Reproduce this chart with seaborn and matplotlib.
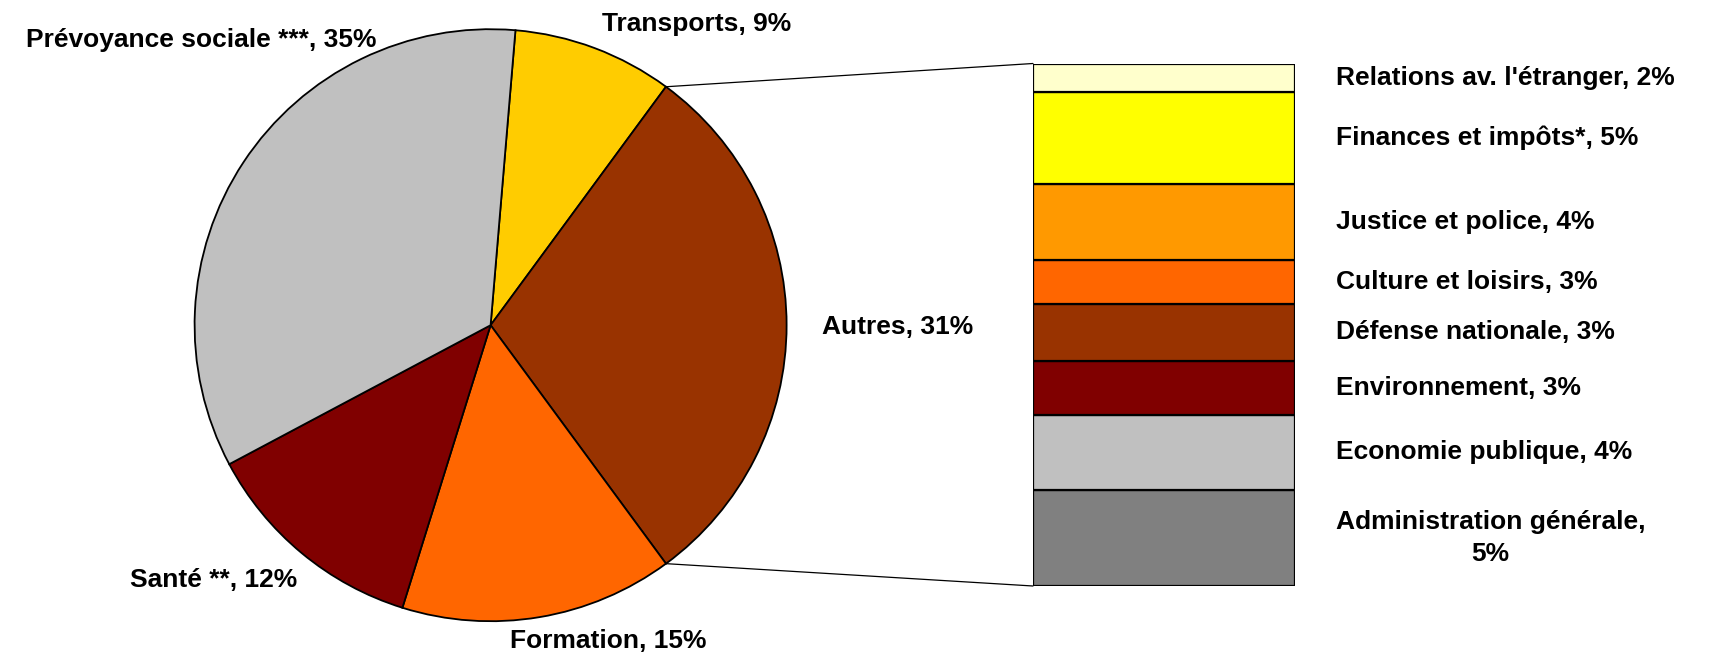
import numpy as np
import matplotlib
matplotlib.use("Agg")
import matplotlib.pyplot as plt
from matplotlib.patches import ConnectionPatch
import seaborn as sns

# ---data---
pie_labels = ['Transports, 9%', 'Autres, 31%', 'Formation, 15%', 'Santé **, 12%', 'Prévoyance sociale ***, 35%']
pie_values = [8.75, 29.8, 14.9, 12.4, 34.1]
pie_colors = ['#FFCC00', '#993300', '#FF6600', '#800000', '#C0C0C0']

# stacked bar for "Autres", bottom to top
bar_labels = ['Administration générale,\n5%', 'Economie publique, 4%', 'Environnement, 3%',
              'Défense nationale, 3%', 'Culture et loisirs, 3%', 'Justice et police, 4%',
              'Finances et impôts*, 5%', "Relations av. l'étranger, 2%"]
bar_values = [5.7, 4.4, 3.2, 3.4, 2.6, 4.5, 5.4, 1.7]
bar_colors = ['#808080', '#C0C0C0', '#800000', '#993300', '#FF6600', '#FF9900', '#FFFF00', '#FFFFCC']

# pie label positions (pixels in a 1717x657 figure)
pie_label_pos = [(697, 24), (898, 327), (608, 641), (214, 580), (201, 40)]

# ---style---
sns.set_style('white')
plt.rcParams['font.family'] = ['Liberation Sans', 'DejaVu Sans']
plt.rcParams['text.color'] = 'black'

W, H = 1717, 657
fig = plt.figure(figsize=(W / 100, H / 100), dpi=100)
fs = 19

# ---pie---
cx, cy, r = 490.6, 325.2, 296
ax_pie = fig.add_axes([(cx - r) / W, (H - cy - r) / H, 2 * r / W, 2 * r / H])
total = sum(pie_values)
start = 360 * (pie_values[0] + pie_values[1] / 2) / total
wedges, _ = ax_pie.pie(pie_values, colors=pie_colors, startangle=start, counterclock=False,
                       wedgeprops=dict(edgecolor='black', linewidth=1.3))
ax_pie.set_xlim(-1, 1)
ax_pie.set_ylim(-1, 1)
ax_pie.set_aspect('equal')
ax_pie.axis('off')

for lab, (px, py) in zip(pie_labels, pie_label_pos):
    fig.text(px / W, 1 - py / H, lab, ha='center', va='center', fontsize=fs, fontweight='bold')

# ---stacked bar---
bx0, bx1, by0, by1 = 1033, 1295, 63.5, 586
ax_bar = fig.add_axes([bx0 / W, (H - by1) / H, (bx1 - bx0) / W, (by1 - by0) / H])
bottom = 0
for val, col, lab in zip(bar_values, bar_colors, bar_labels):
    ax_bar.bar(0.5, val, width=1, bottom=bottom, color=col, edgecolor='black', linewidth=1.6)
    ax_bar.text(1.155, bottom + val / 2, lab, ha='left', va='center', fontsize=fs,
                fontweight='bold', multialignment='center', linespacing=1.45)
    bottom += val
ax_bar.set_xlim(0, 1)
ax_bar.set_ylim(0, bottom)
ax_bar.axis('off')

# ---connector lines---
theta1 = np.deg2rad(start - 360 * pie_values[0] / total)
theta2 = np.deg2rad(start - 360 * (pie_values[0] + pie_values[1]) / total)
for th, yb in [(theta1, bottom), (theta2, 0)]:
    con = ConnectionPatch(xyA=(np.cos(th), np.sin(th)), coordsA=ax_pie.transData,
                          xyB=(0, yb), coordsB=ax_bar.transData, color='black', linewidth=0.9)
    fig.add_artist(con)

fig.savefig('out.png', dpi=100)
